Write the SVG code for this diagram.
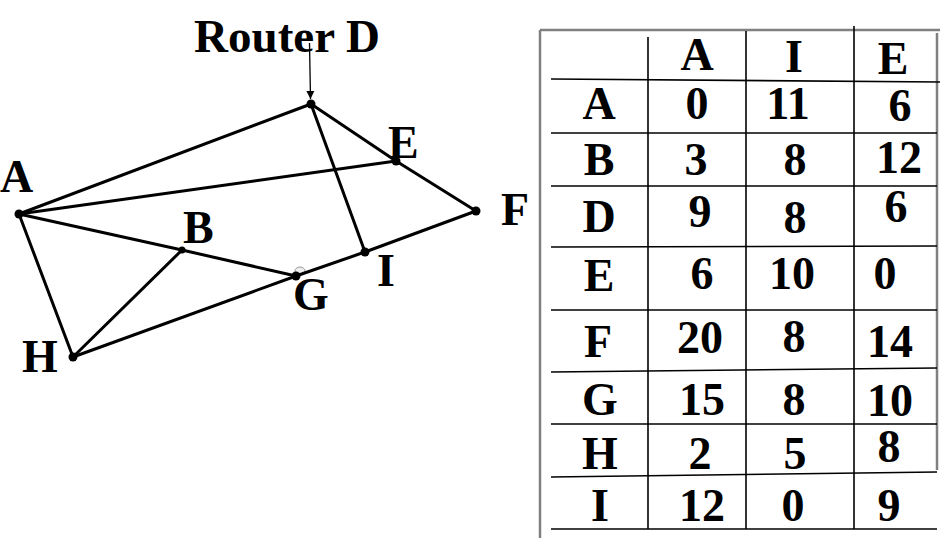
<svg xmlns="http://www.w3.org/2000/svg" width="940" height="541" viewBox="0 0 940 541">
<defs>
<marker id="arr" viewBox="0 0 10 10" refX="10" refY="5" markerWidth="8" markerHeight="10" markerUnits="userSpaceOnUse" orient="auto">
<path d="M0,0 L10,5 L0,10 z" fill="#000"/>
</marker>
<style>
.lbl{font-family:"Liberation Serif","Times New Roman",serif;font-weight:bold;font-size:46px;fill:#000}
.cell{font-family:"Liberation Serif","Times New Roman",serif;font-weight:bold;font-size:46px;fill:#000;text-anchor:middle}
.edge{stroke:#000;stroke-width:3;fill:none;stroke-linecap:round}
.dot{fill:#000}
.grid{stroke:#000;stroke-width:1.6}
.frame{stroke:#808080;stroke-width:2.5;fill:none}
</style>
</defs>
<rect width="940" height="541" fill="#fff"/>

<g id="connectors">
<ellipse cx="300" cy="271" rx="5" ry="4" fill="#eee" stroke="#999" stroke-width="1"/>
<line class="edge" x1="19" y1="214" x2="311" y2="104"/>
<line class="edge" x1="311" y1="104" x2="396" y2="161"/>
<line class="edge" x1="396" y1="161" x2="476" y2="211"/>
<line class="edge" x1="19" y1="214" x2="396" y2="161"/>
<line class="edge" x1="311" y1="104" x2="365" y2="252"/>
<line class="edge" x1="476" y1="211" x2="365" y2="252"/>
<line class="edge" x1="365" y1="252" x2="296" y2="276"/>
<line class="edge" x1="19" y1="214" x2="182" y2="250"/>
<line class="edge" x1="182" y1="250" x2="296" y2="276"/>
<line class="edge" x1="19" y1="214" x2="73" y2="357"/>
<line class="edge" x1="73" y1="357" x2="182" y2="250"/>
<line class="edge" x1="73" y1="357" x2="296" y2="276"/>
<line x1="309.5" y1="43" x2="310.5" y2="99" stroke="#000" stroke-width="1.3" marker-end="url(#arr)"/>
</g>

<g id="router-d-label"><text class="lbl" x="194" y="52" textLength="186" lengthAdjust="spacingAndGlyphs">Router D</text></g>
<g id="node-D"><circle class="dot" cx="311" cy="104" r="4.5"/></g>
<g id="node-E"><circle class="dot" cx="396" cy="161" r="4.5"/><text class="lbl" x="388" y="158">E</text></g>
<g id="node-A"><circle class="dot" cx="19" cy="214" r="4.5"/><text class="lbl" x="0" y="192" font-size="42">A</text></g>
<g id="node-F"><circle class="dot" cx="476" cy="211" r="4.5"/><text class="lbl" x="501" y="225">F</text></g>
<g id="node-B"><circle class="dot" cx="182" cy="250" r="3.5"/><text class="lbl" x="183" y="243">B</text></g>
<g id="node-I"><circle class="dot" cx="365" cy="252" r="4.5"/><text class="lbl" x="377" y="286">I</text></g>
<g id="node-G"><circle class="dot" cx="296" cy="276" r="4.5"/><text class="lbl" x="293" y="310">G</text></g>
<g id="node-H"><circle class="dot" cx="73" cy="357" r="4.5"/><text class="lbl" x="22" y="372">H</text></g>

<g id="table">
<line class="frame" x1="540" y1="30" x2="940" y2="30"/>
<line class="frame" x1="540" y1="30" x2="540" y2="538"/>
<line class="frame" x1="937" y1="33" x2="937" y2="470"/>
<line class="grid" x1="551" y1="79" x2="940" y2="82"/>
<line class="grid" x1="551" y1="133" x2="937" y2="133"/>
<line class="grid" x1="551" y1="186" x2="937" y2="186"/>
<line class="grid" x1="551" y1="247" x2="937" y2="246"/>
<line class="grid" x1="551" y1="310" x2="937" y2="310"/>
<line class="grid" x1="551" y1="372" x2="937" y2="368"/>
<line class="grid" x1="551" y1="424" x2="937" y2="424"/>
<line class="grid" x1="551" y1="477" x2="937" y2="472"/>
<line class="grid" x1="551" y1="529" x2="937" y2="529"/>
<line class="grid" x1="648" y1="37" x2="648" y2="529"/>
<line class="grid" x1="746" y1="31" x2="746" y2="529"/>
<line class="grid" x1="854" y1="26" x2="854" y2="529"/>

<text class="cell" x="697" y="70">A</text>
<text class="cell" x="794" y="72">I</text>
<text class="cell" x="893" y="74">E</text>

<text class="cell" x="599" y="119">A</text>
<text class="cell" x="697" y="119">0</text>
<text class="cell" x="788" y="119">11</text>
<text class="cell" x="900" y="121">6</text>

<text class="cell" x="599" y="175">B</text>
<text class="cell" x="696" y="175">3</text>
<text class="cell" x="795" y="175">8</text>
<text class="cell" x="899" y="173">12</text>

<text class="cell" x="599" y="232">D</text>
<text class="cell" x="700" y="227">9</text>
<text class="cell" x="795" y="233">8</text>
<text class="cell" x="896" y="222">6</text>

<text class="cell" x="599" y="291">E</text>
<text class="cell" x="702" y="289">6</text>
<text class="cell" x="792" y="289">10</text>
<text class="cell" x="885" y="289">0</text>

<text class="cell" x="598" y="357">F</text>
<text class="cell" x="700" y="353">20</text>
<text class="cell" x="794" y="352">8</text>
<text class="cell" x="890" y="357">14</text>

<text class="cell" x="600" y="415">G</text>
<text class="cell" x="702" y="415">15</text>
<text class="cell" x="794" y="415">8</text>
<text class="cell" x="890" y="416">10</text>

<text class="cell" x="600" y="469">H</text>
<text class="cell" x="700" y="469">2</text>
<text class="cell" x="795" y="469">5</text>
<text class="cell" x="889" y="462">8</text>

<text class="cell" x="600" y="521">I</text>
<text class="cell" x="702" y="521">12</text>
<text class="cell" x="793" y="521">0</text>
<text class="cell" x="889" y="521">9</text>
</g>
</svg>
